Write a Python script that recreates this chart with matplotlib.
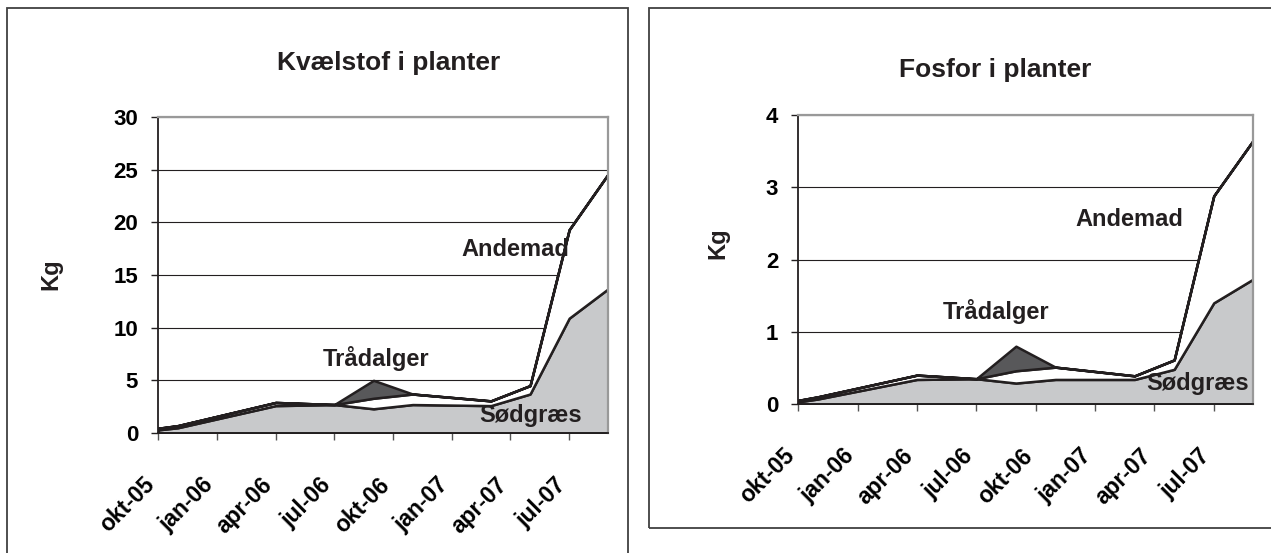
import numpy as np
import matplotlib.pyplot as plt
import matplotlib.transforms as mtransforms
from matplotlib.patches import Rectangle

plt.rcParams['font.family'] = ['Liberation Sans', 'DejaVu Sans']
plt.rcParams['font.weight'] = 'bold'

# sample dates (year, month)
dates = [(2005, 10), (2005, 11), (2006, 4), (2006, 7), (2006, 9),
         (2006, 11), (2007, 3), (2007, 5), (2007, 7), (2007, 9)]
tick_labels = ["okt-05", "jan-06", "apr-06", "jul-06", "okt-06", "jan-07", "apr-07", "jul-07"]

# Kvælstof (kg)
sod_N = [0.3, 0.5, 2.6, 2.7, 2.3, 2.7, 2.6, 3.7, 10.9, 13.7]
ande_N = [0.15, 0.2, 0.3, 0.0, 1.0, 1.0, 0.45, 0.8, 8.4, 10.9]
traad_N = [0, 0, 0, 0, 1.7, 0, 0, 0, 0, 0]

# Fosfor (kg)
sod_P = [0.03, 0.07, 0.34, 0.35, 0.29, 0.34, 0.34, 0.48, 1.40, 1.73]
ande_P = [0.02, 0.03, 0.06, 0.0, 0.17, 0.17, 0.05, 0.13, 1.48, 1.92]
traad_P = [0, 0, 0, 0, 0.34, 0, 0, 0, 0, 0]

x = np.array([(y - 2005) * 12 + m - 10 for y, m in dates])

BLACK = '#231f20'
GREY = '#c8c9cb'
DARK = '#58585a'

fig = plt.figure(figsize=(12.71, 5.53), dpi=100)

# panel frames
fig.patches.append(Rectangle((7 / 1271, -0.01), 621 / 1271, 1 - 8 / 553 + 0.01,
                             transform=fig.transFigure, fill=False, ec='#404040', lw=1.3))
fig.patches.append(Rectangle((649 / 1271, 1 - 528 / 553), 0.5, 520 / 553,
                             transform=fig.transFigure, fill=False, ec='#404040', lw=1.3))


def panel(rect, sod, ande, traad, ymax, ystep, title, title_xy, kg_xy, labels):
    ax = fig.add_axes(rect)
    s1 = np.array(sod, float)
    s2 = s1 + np.array(ande, float)
    s3 = s2 + np.array(traad, float)
    ax.fill_between(x, 0, s1, facecolor=GREY, edgecolor=BLACK, lw=1.8, zorder=3)
    ax.fill_between(x, s1, s2, facecolor='white', edgecolor=BLACK, lw=1.8, zorder=4)
    ax.fill_between(x, s2, s3, facecolor=DARK, edgecolor=BLACK, lw=1.8, zorder=5)
    ax.set_xlim(0, 23)
    ax.set_ylim(0, ymax)
    ax.set_yticks(np.arange(0, ymax + ystep / 2, ystep))
    ax.set_xticks(np.arange(0, 22, 3))
    ax.tick_params(axis='y', labelsize=16, length=5, width=1, color=BLACK, pad=9.5)
    ax.tick_params(axis='x', length=5, width=1, color='#555555', pad=24)
    ax.set_xticklabels(tick_labels, rotation=45, ha='right', va='top',
                       rotation_mode='anchor', fontsize=16.5, fontweight='bold')
    shift = mtransforms.ScaledTranslation(-0.15, 0, fig.dpi_scale_trans)
    for t in ax.get_xticklabels():
        t.set_transform(t.get_transform() + shift)
    for t in ax.get_yticklabels():
        t.set_fontweight('bold')
    ax.yaxis.grid(True, color=BLACK, lw=0.8)
    ax.set_axisbelow(True)
    ax.spines['left'].set_color(BLACK)
    ax.spines['bottom'].set_color(BLACK)
    ax.spines['left'].set_linewidth(1.3)
    ax.spines['bottom'].set_linewidth(1.3)
    for s in ('top', 'right'):
        ax.spines[s].set_color('#999999')
        ax.spines[s].set_linewidth(1.6)
    for sp in ax.spines.values():
        sp.set_zorder(6)
    for txt, tx, ty in labels:
        ax.text(tx, ty, txt, fontsize=17, fontweight='bold', color=BLACK,
                ha='left', va='center', zorder=7)
    fig.text(title_xy[0] / 1271, 1 - title_xy[1] / 553, title, fontsize=19,
             fontweight='bold', color=BLACK, ha='center', va='center')
    fig.text(kg_xy[0] / 1271, 1 - kg_xy[1] / 553, "Kg", fontsize=17,
             fontweight='bold', color=BLACK, ha='center', va='center', rotation=90)
    return ax


panel([158.3 / 1271, 1 - 433 / 553, 450 / 1271, 316 / 553], sod_N, ande_N, traad_N,
      30, 5, "Kvælstof i planter", (389, 63), (51, 274),
      [("Andemad", 15.5, 17.4), ("Trådalger", 8.4, 7.1), ("Sødgræs", 16.4, 1.7)])
panel([798.3 / 1271, 1 - 404 / 553, 455 / 1271, 289 / 553], sod_P, ande_P, traad_P,
      4, 1, "Fosfor i planter", (995, 70), (718, 243),
      [("Andemad", 14.0, 2.55), ("Trådalger", 7.3, 1.28), ("Sødgræs", 17.6, 0.28)])

fig.savefig("out.png", dpi=100)
